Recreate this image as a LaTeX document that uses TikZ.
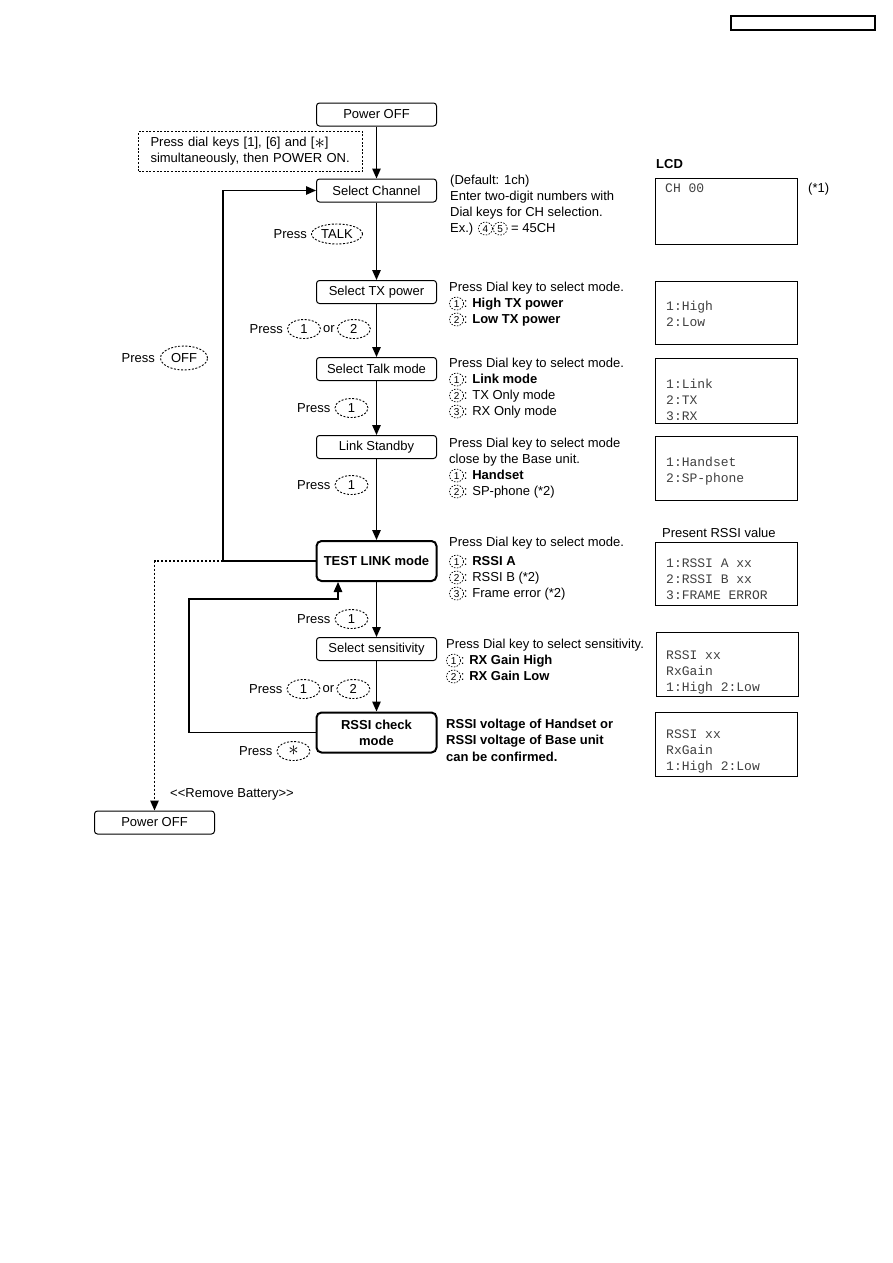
\documentclass[tikz,border=0pt]{standalone}
\usepackage{fontspec}
\setmainfont{Liberation Sans}
\setmonofont{Liberation Mono}
\usetikzlibrary{arrows.meta, shapes.geometric, positioning}

\tikzset{
    stepbox/.style = {draw, rounded corners=3pt, line width=1pt, minimum width=120pt, minimum height=23pt, inner sep=0pt},
    modebox/.style = {stepbox, line width=2pt, rounded corners=5pt, minimum height=40pt, align=center, font=\bfseries\fontsize{13}{16}\selectfont},
    hintbox/.style = {draw, dash pattern=on 2pt off 1.6pt, line width=1pt, text width=200pt, inner xsep=12pt, minimum height=40pt, align=left},
    pkey/.style = {draw, ellipse, dash pattern=on 2pt off 1.6pt, line width=0.9pt, inner sep=0pt, minimum width=33pt, minimum height=19pt},
    dkey/.style = {draw, ellipse, dash pattern=on 1.5pt off 1.4pt, line width=0.7pt, inner sep=0pt, minimum width=14pt, minimum height=13pt, font=\fontsize{10}{10}\selectfont},
    lbl/.style = {inner sep=0pt},
    note/.style = {anchor=base west, align=left, inner sep=0pt},
    lcd/.style = {draw, line width=1pt, anchor=north west, minimum width=142pt, inner sep=0pt},
    lcdtext/.style = {anchor=base west, align=left, inner sep=0pt, font=\ttfamily\fontsize{13}{16}\selectfont, text=black!75},
    flow/.style = {line width=1.3pt, -{Triangle[length=10pt, width=8.5pt]}},
    dotflow/.style = {flow, dash pattern=on 2pt off 2pt},
}
\newcommand{\dialkey}[1]{\tikz[baseline=(dk.base)] \node[dkey] (dk) {#1};}

\begin{document}
\begin{tikzpicture}[x=1pt, y=-1pt, font=\fontsize{13}{16}\selectfont]
    \useasboundingbox (0,0) rectangle (893,1263);
    \draw[line width=1.2pt] (731,16) rectangle (875,30);

    % flow boxes
    \node[stepbox] (off) at (376.5,114.5) {Power OFF};
    \node[hintbox, anchor=north west] (hint) at (138,131) {Press dial keys [1], [6] and [\raisebox{-1.5pt}{\fontsize{20}{20}\selectfont$\ast$}]\\simultaneously, then POWER ON.};
    \node[stepbox] (chan) at (376.5,190.5) {Select Channel};
    \node[stepbox] (txp) at (376.5,292) {Select TX power};
    \node[stepbox] (talk) at (376.5,369) {Select Talk mode};
    \node[stepbox] (link) at (376.5,447) {Link Standby};
    \node[modebox] (test) at (376.5,561) {TEST LINK mode};
    \node[stepbox] (sens) at (376.5,649) {Select sensitivity};
    \node[modebox] (rssi) at (376.5,732.5) {RSSI check\\mode};
    \node[stepbox] (offb) at (154.5,822.5) {Power OFF};

    \draw[flow] (off) -- (chan);
    \draw[flow] (chan) -- (txp);
    \draw[flow] (txp) -- (talk);
    \draw[flow] (talk) -- (link);
    \draw[flow] (link) -- (test);
    \draw[flow] (test) -- (sens);
    \draw[flow] (sens) -- (rssi);

    % loops back
    \coordinate (loopa) at (223,561);
    \coordinate (loopb) at (189,599);
    \coordinate (backup) at (338,599);
    \draw[flow] (test.west) -- (loopa) |- (chan.west);
    \draw[dotflow] (loopa) -| (offb.north);
    \draw[flow] (rssi.west) -| (loopb) -- (backup) -- (backup |- test.south);
    \node[lbl, anchor=base west] (batt) at (170,797) {<{}<Remove Battery>{}>};

    % key presses
    \node[pkey, minimum width=51pt, minimum height=20pt] (ktalk) at (337,234) {TALK};
    \node[lbl, left=4pt of ktalk] (ptalk) {Press};
    \node[pkey] (ktx1) at (304,329) {1};
    \node[lbl, right=2pt of ktx1] (ortx) {or};
    \node[pkey, right=2pt of ortx] (ktx2) {2};
    \node[lbl, left=4pt of ktx1] (ptx) {Press};
    \node[pkey] (ktalk1) at (351.5,408) {1};
    \node[lbl, left=4pt of ktalk1] (ptalk1) {Press};
    \node[pkey] (klink1) at (351.5,485) {1};
    \node[lbl, left=4pt of klink1] (plink1) {Press};
    \node[pkey, minimum width=47pt, minimum height=24pt] (koff) at (184,358) {OFF};
    \node[lbl, left=5pt of koff] (poff) {Press};
    \node[pkey] (ktest1) at (351.5,619) {1};
    \node[lbl, left=4pt of ktest1] (ptest1) {Press};
    \node[pkey] (ksens1) at (303.5,689) {1};
    \node[lbl, right=2pt of ksens1] (orsens) {or};
    \node[pkey, right=2pt of orsens] (ksens2) {2};
    \node[lbl, left=4pt of ksens1] (psens) {Press};
    \node[pkey] (kstar) at (293.5,751) {\fontsize{20}{20}\selectfont$\ast$};
    \node[lbl, left=4pt of kstar] (pstar) {Press};

    % notes (placed at the baseline of their last line)
    \node[note] (nchan) at (450,232) {(Default: 1ch)\\Enter two-digit numbers with\\Dial keys for CH selection.\\Ex.) \dialkey{4}\dialkey{5} = 45CH};
    \node[note] (ntx) at (449,323) {Press Dial key to select mode.\\\dialkey{1}: \textbf{High TX power}\\\dialkey{2}: \textbf{Low TX power}};
    \node[note] (ntalk) at (449,415) {Press Dial key to select mode.\\\dialkey{1}: \textbf{Link mode}\\\dialkey{2}: TX Only mode\\\dialkey{3}: RX Only mode};
    \node[note] (nlink) at (449,495) {Press Dial key to select mode\\close by the Base unit.\\\dialkey{1}: \textbf{Handset}\\\dialkey{2}: SP-phone (*2)};
    \node[note] (ntest) at (449,597) {Press Dial key to select mode.\\[3pt]\dialkey{1}: \textbf{RSSI A}\\\dialkey{2}: RSSI B (*2)\\\dialkey{3}: Frame error (*2)};
    \node[note] (nsens) at (446,680) {Press Dial key to select sensitivity.\\\dialkey{1}: \textbf{RX Gain High}\\\dialkey{2}: \textbf{RX Gain Low}};
    \node[note, font=\bfseries\fontsize{13}{16.5}\selectfont] (nrssi) at (446,761) {RSSI voltage of Handset or\\RSSI voltage of Base unit\\can be confirmed.};

    % LCD screens
    \node[note, font=\bfseries\fontsize{13}{16}\selectfont] (lcdtitle) at (656,168) {LCD};
    \node[note] (star1) at (808,192) {(*1)};
    \node[note] (present) at (662,537) {Present RSSI value};
    \node[lcd, minimum height=66pt] (lcd1) at (655,178) {};
    \node[lcd, minimum height=63pt] (lcd2) at (655,281) {};
    \node[lcd, minimum height=65pt] (lcd3) at (655,358) {};
    \node[lcd, minimum height=64pt] (lcd4) at (655,436) {};
    \node[lcd, minimum height=63pt] (lcd5) at (655,542) {};
    \node[lcd, minimum height=64pt] (lcd6) at (656,632) {};
    \node[lcd, minimum height=64pt] (lcd7) at (655,712) {};
    \node[lcdtext] (scr1) at (665,192) {CH 00};
    \node[lcdtext] (scr2) at (666,326) {1:High\\2:Low};
    \node[lcdtext] (scr3) at (666,420) {1:Link\\2:TX\\3:RX};
    \node[lcdtext] (scr4) at (666,482) {1:Handset\\2:SP-phone};
    \node[lcdtext] (scr5) at (666,599) {1:RSSI A xx\\2:RSSI B xx\\3:FRAME ERROR};
    \node[lcdtext] (scr6) at (666,691) {RSSI xx\\RxGain\\1:High 2:Low};
    \node[lcdtext] (scr7) at (666,770) {RSSI xx\\RxGain\\1:High 2:Low};
\end{tikzpicture}
\end{document}
